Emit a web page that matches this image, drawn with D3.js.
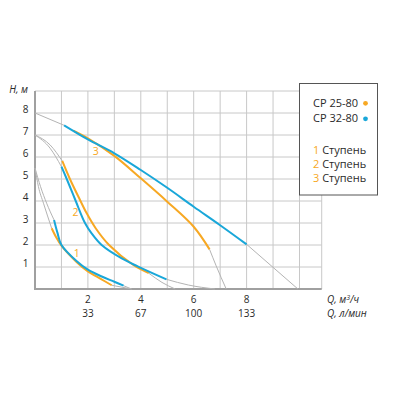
<!DOCTYPE html>
<html>
<head>
<meta charset="utf-8">
<script src="https://cdn.jsdelivr.net/npm/d3@7"></script>
<style>
  body { margin: 0; background: #fff; }
  svg { display: block; }
</style>
</head>
<body>
<svg id="chart" width="400" height="400"></svg>
<script>
// pump curves, H (m) against Q (m3/h)

// tick labels
var yTicks = [1, 2, 3, 4, 5, 6, 7, 8];
var xTicks = [2, 4, 6, 8];
var xTicksLmin = ["33", "67", "100", "133"];

// CP 25-80 (orange), stages 1..3, [Q, H]
var cp25_1 = [[0.63, 2.76], [0.8, 2.35], [1.0, 1.97], [1.58, 1.22], [2.0, 0.8], [2.5, 0.45], [2.9, 0.17]];
var cp25_2 = [[1.03, 5.82], [1.32, 5.0], [1.68, 4.1], [1.95, 3.45], [2.3, 2.75], [2.8, 2.0], [3.72, 1.09], [4.3, 0.72]];
var cp25_3 = [[1.45, 7.2], [2.0, 6.85], [3.0, 6.05], [4.0, 5.03], [5.0, 3.97], [6.0, 2.83], [6.6, 1.8]];

// CP 32-80 (blue)
var cp32_1 = [[0.72, 3.14], [0.85, 2.55], [1.0, 2.0], [1.58, 1.26], [2.0, 0.88], [2.5, 0.58], [3.0, 0.33], [3.35, 0.15]];
var cp32_2 = [[1.0, 5.56], [1.2, 5.0], [1.54, 4.0], [1.89, 3.0], [2.14, 2.53], [2.52, 2.0], [3.28, 1.39], [3.9, 1.02], [4.97, 0.44]];
var cp32_3 = [[1.1, 7.44], [2.0, 6.8], [3.0, 6.17], [4.0, 5.41], [5.0, 4.6], [6.0, 3.74], [7.0, 2.9], [8.0, 2.03]];

// thin grey extensions of the curves
var greyLines = [
  [[0, 8], [1.1, 7.44]],
  [[0, 7], [0.57, 6.55], [1.03, 5.82]],
  [[0, 7], [0.57, 6.4], [1.0, 5.56]],
  [[0, 5.5], [0.13, 4.65], [0.32, 3.9], [0.63, 2.76]],
  [[0, 5.5], [0.21, 4.65], [0.44, 3.9], [0.72, 3.14]],
  [[2.9, 0.17], [3.65, 0]],
  [[3.35, 0.15], [3.65, 0]],
  [[4.3, 0.72], [4.8, 0.3], [5.3, 0]],
  [[4.97, 0.44], [5.8, 0.18], [6.8, 0]],
  [[6.6, 1.8], [6.85, 1.05], [7.23, 0]],
  [[8.0, 2.03], [9.94, 0]]
];

// stage numbers on the chart
var stageLabels = [{t: "1", q: 1.58, h: 1.47}, {t: "2", q: 1.53, h: 3.32}, {t: "3", q: 2.3, h: 6.1}];

var legendModels = [{name: "CP 25-80", c: "orange"}, {name: "CP 32-80", c: "blue"}];
var legendStages = ["1", "2", "3"];

var colour = {orange: "#f7a823", blue: "#19a7d9", grid: "#c8c8c8", axis: "#a0a0a0", grey: "#b4b4b4", text: "#2a2a2a"};
var font = "'Open Sans', sans-serif";

var svg = d3.select("#chart");

var x = d3.scaleLinear().domain([0, 10]).range([35, 299.5]);
var y = d3.scaleLinear().domain([0, 8]).range([289, 113]);
var xMax = 10.84, yMax = 9;

// grid
var grid = svg.append("g");
grid.selectAll(".v").data(d3.range(1, 11).concat([xMax])).enter().append("line")
  .attr("x1", d => x(d)).attr("x2", d => x(d))
  .attr("y1", y(0)).attr("y2", y(yMax))
  .attr("stroke", colour.grid).attr("stroke-width", 1);
grid.selectAll(".h").data(d3.range(1, 10)).enter().append("line")
  .attr("x1", x(0)).attr("x2", x(xMax))
  .attr("y1", d => y(d)).attr("y2", d => y(d))
  .attr("stroke", colour.grid).attr("stroke-width", 1);

// axis lines
svg.append("line").attr("x1", x(0)).attr("x2", x(0)).attr("y1", y(0) + 1).attr("y2", y(yMax))
  .attr("stroke", colour.axis).attr("stroke-width", 2);
svg.append("line").attr("x1", x(0) - 1).attr("x2", x(xMax)).attr("y1", y(0)).attr("y2", y(0))
  .attr("stroke", colour.axis).attr("stroke-width", 2);

// tick labels
svg.selectAll(".yt").data(yTicks).enter().append("text")
  .attr("x", 28.5).attr("y", d => y(d))
  .attr("text-anchor", "end").attr("font-family", font).attr("font-size", "10px")
  .attr("fill", colour.text).text(d => d);
svg.selectAll(".xt").data(xTicks).enter().append("text")
  .attr("x", d => x(d)).attr("y", 303)
  .attr("text-anchor", "middle").attr("font-family", font).attr("font-size", "10px")
  .attr("fill", colour.text).text(d => d);
svg.selectAll(".xt2").data(xTicksLmin).enter().append("text")
  .attr("x", (d, i) => x(xTicks[i])).attr("y", 316.5)
  .attr("text-anchor", "middle").attr("font-family", font).attr("font-size", "10px")
  .attr("fill", colour.text).text(d => d);

// axis titles
svg.append("text").attr("x", 28).attr("y", 93).attr("text-anchor", "end")
  .attr("font-family", font).attr("font-size", "10px").attr("font-style", "italic")
  .attr("fill", colour.text).text("H, м");
var qt = svg.append("text").attr("x", 327).attr("y", 303)
  .attr("font-family", font).attr("font-size", "10px").attr("font-style", "italic")
  .attr("fill", colour.text);
qt.append("tspan").text("Q, м");
qt.append("tspan").attr("dy", -3.5).attr("font-size", "7px").text("3");
qt.append("tspan").attr("dy", 3.5).text("/ч");
svg.append("text").attr("x", 327).attr("y", 316.5)
  .attr("font-family", font).attr("font-size", "10px").attr("font-style", "italic")
  .attr("fill", colour.text).text("Q, л/мин");

// curves
var greyLine = d3.line().x(d => x(d[0])).y(d => y(d[1])).curve(d3.curveMonotoneX);
var line = d3.line().x(d => x(d[0])).y(d => y(d[1])).curve(d3.curveCatmullRom.alpha(0.5));

svg.selectAll(".grey").data(greyLines).enter().append("path")
  .attr("d", greyLine).attr("fill", "none")
  .attr("stroke", colour.grey).attr("stroke-width", 1);

var curves = [
  {pts: cp25_1, c: colour.orange}, {pts: cp32_1, c: colour.blue},
  {pts: cp25_2, c: colour.orange}, {pts: cp32_2, c: colour.blue},
  {pts: cp25_3, c: colour.orange}, {pts: cp32_3, c: colour.blue}
];
svg.selectAll(".curve").data(curves).enter().append("path")
  .attr("d", d => line(d.pts)).attr("fill", "none")
  .attr("stroke", d => d.c).attr("stroke-width", 2);

svg.selectAll(".stage").data(stageLabels).enter().append("text")
  .attr("x", d => x(d.q)).attr("y", d => y(d.h))
  .attr("text-anchor", "middle").attr("font-family", font).attr("font-size", "10.5px")
  .attr("fill", colour.orange).text(d => d.t);

// legend
var lg = svg.append("g");
lg.append("rect").attr("x", 299.5).attr("y", 83.5).attr("width", 78).attr("height", 111.5)
  .attr("fill", "#fff").attr("stroke", "#555").attr("stroke-width", 1);
legendModels.forEach(function(m, i) {
  lg.append("text").attr("x", 313).attr("y", 107 + i * 15)
    .attr("font-family", font).attr("font-size", "11px").attr("fill", colour.text).text(m.name);
  lg.append("circle").attr("cx", 365.5).attr("cy", 103.3 + i * 15.5).attr("r", 2.4)
    .attr("fill", colour[m.c]);
});
legendStages.forEach(function(s, i) {
  var t = lg.append("text").attr("x", 313).attr("y", 154 + i * 14.2)
    .attr("font-family", font).attr("font-size", "11px").attr("fill", colour.text);
  t.append("tspan").attr("fill", colour.orange).text(s);
  t.append("tspan").text(" Ступень");
});
</script>
</body>
</html>
